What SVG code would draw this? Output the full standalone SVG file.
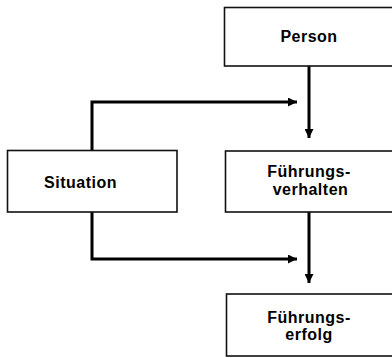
<svg xmlns="http://www.w3.org/2000/svg" width="392" height="358" viewBox="0 0 392 358">
<defs>
<style>
.box{fill:#fff;stroke:#111;stroke-width:1.6}
.lbl{font-family:"Liberation Sans",Arial,sans-serif;font-weight:bold;font-size:16px;letter-spacing:0.5px;fill:#000;text-anchor:middle}
.con{fill:none;stroke:#000;stroke-width:3}
</style>
<marker id="ah" viewBox="0 0 10 10" refX="10" refY="5" markerWidth="3.2" markerHeight="3" orient="auto" markerUnits="strokeWidth">
<path d="M0,0 L10,5 L0,10 z" fill="#000"/>
</marker>
</defs>
<rect width="392" height="358" fill="#fff"/>
<g id="connectors">
<path class="con" d="M309,66 V138" marker-end="url(#ah)"/>
<path class="con" d="M92,150 V102 H297" marker-end="url(#ah)"/>
<path class="con" d="M92,212 V259 H297" marker-end="url(#ah)"/>
<path class="con" d="M309,212 V283" marker-end="url(#ah)"/>
</g>
<g id="person">
<rect class="box" x="224.5" y="7.5" width="180" height="58.5"/>
<text class="lbl" x="309" y="42.3">Person</text>
</g>
<g id="situation">
<rect class="box" x="7.5" y="150.5" width="169.5" height="61.5"/>
<text class="lbl" x="80.5" y="187.7">Situation</text>
</g>
<g id="fuehrungsverhalten">
<rect class="box" x="225.5" y="151" width="180" height="61"/>
<text class="lbl" x="309" y="176.7">Führungs-</text>
<text class="lbl" x="310.5" y="195">verhalten</text>
</g>
<g id="fuehrungserfolg">
<rect class="box" x="226.5" y="294" width="180" height="62"/>
<text class="lbl" x="309" y="323">Führungs-</text>
<text class="lbl" x="309" y="339.7">erfolg</text>
</g>
</svg>
